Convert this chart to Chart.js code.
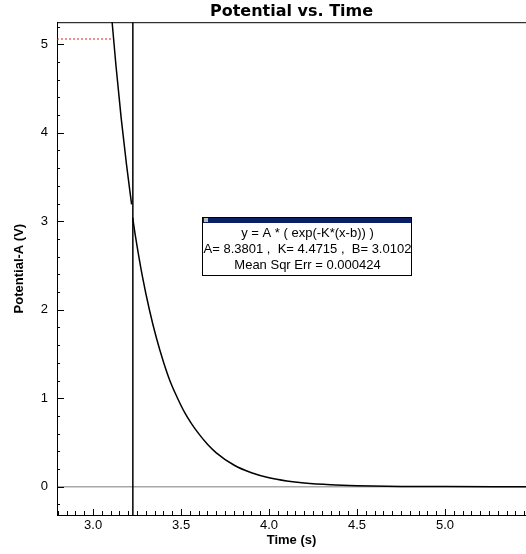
<!DOCTYPE html>
<html>
<head>
<meta charset="utf-8">
<script src="https://cdn.jsdelivr.net/npm/chart.js@4"></script>
<style>
  body { margin: 0; background: #fff; }
  #wrap { width: 526px; height: 554px; }
</style>
</head>
<body>
<div id="wrap"><canvas id="chart" width="526" height="554"></canvas></div>
<script>
// valores
const upperTimes = [3.100, 3.130, 3.160, 3.190, 3.219];
const upperVolts = [5.44, 4.76, 4.16, 3.64, 3.19];
const fitTimes = [3.225, 3.240, 3.280, 3.320, 3.360, 3.400, 3.440, 3.480, 3.520, 3.560, 3.600, 3.650, 3.700, 3.800, 3.900, 4.000, 4.100, 4.200, 4.350, 4.500, 4.750, 5.000, 5.460];
const fitVolts = [3.04, 2.84, 2.38, 2.00, 1.68, 1.41, 1.18, 1.00, 0.84, 0.71, 0.60, 0.48, 0.383, 0.245, 0.157, 0.100, 0.064, 0.041, 0.021, 0.011, 0.0035, 0.0012, 0.0];
const flatTimes = [2.795, 3.106];
const flatVolts = [5.06, 5.06];
const cursorTime = 3.226;
const xRange = [2.795, 5.46];
const yRange = [-0.32, 5.25];
const fitLines = [
  'y = A * ( exp(-K*(x-b)) )',
  'A= 8.3801 ,  K= 4.4715 ,  B= 3.0102',
  'Mean Sqr Err = 0.000424'
];

const toPts = (xs, ys) => xs.map((x, i) => ({ x: x, y: ys[i] }));

// ticks hacia dentro + borde superior + cuadro del ajuste
const extras = {
  id: 'extras',
  afterDraw(chart) {
    const { ctx, chartArea: a, scales: { x, y } } = chart;
    ctx.save();
    ctx.strokeStyle = '#000';
    ctx.lineWidth = 1;
    ctx.beginPath();
    ctx.moveTo(a.left, a.top + 0.5);
    ctx.lineTo(a.right, a.top + 0.5);
    for (let k = Math.ceil(xRange[0] / 0.05); k * 0.05 <= xRange[1]; k++) {
      const px = Math.round(x.getPixelForValue(k * 0.05)) + 0.5;
      const len = k % 10 === 0 ? 6 : 4;
      ctx.moveTo(px, a.bottom);
      ctx.lineTo(px, a.bottom - len);
    }
    for (let k = Math.ceil(yRange[0] / 0.2); k * 0.2 <= yRange[1]; k++) {
      const py = Math.round(y.getPixelForValue(k * 0.2)) + 0.5;
      const len = k % 5 === 0 ? 7 : 3;
      ctx.moveTo(a.left, py);
      ctx.lineTo(a.left + len, py);
    }
    ctx.stroke();

    // cuadro
    const bx = 202, by = 217, bw = 209, bh = 58;
    ctx.fillStyle = '#fff';
    ctx.fillRect(bx, by, bw, bh);
    ctx.fillStyle = '#0b1f66';
    ctx.fillRect(bx, by, bw, 6);
    ctx.fillStyle = '#bbb';
    ctx.fillRect(bx + 2, by + 1, 4, 4);
    ctx.strokeRect(bx + 0.5, by + 0.5, bw, bh);
    ctx.fillStyle = '#000';
    ctx.font = '13px "Liberation Sans", Arial, sans-serif';
    ctx.textAlign = 'center';
    ctx.textBaseline = 'middle';
    fitLines.forEach((t, i) => ctx.fillText(t, bx + bw / 2 + 1, by + 16 + i * 16));
    ctx.restore();
  }
};

new Chart(document.getElementById('chart'), {
  type: 'scatter',
  data: {
    datasets: [
      {
        data: toPts(flatTimes, flatVolts),
        showLine: true, borderColor: '#e02020', borderWidth: 1,
        borderDash: [2, 2], pointRadius: 0
      },
      {
        data: toPts(upperTimes, upperVolts),
        showLine: true, borderColor: '#000', borderWidth: 1.5,
        pointRadius: 0, cubicInterpolationMode: 'monotone'
      },
      {
        data: toPts(fitTimes, fitVolts),
        showLine: true, borderColor: '#000', borderWidth: 1.5,
        pointRadius: 0, cubicInterpolationMode: 'monotone'
      },
      {
        data: toPts([cursorTime, cursorTime], yRange),
        showLine: true, borderColor: '#000', borderWidth: 1.5, pointRadius: 0
      }
    ]
  },
  options: {
    responsive: false,
    animation: false,
    layout: { padding: 0 },
    plugins: {
      legend: { display: false },
      tooltip: { enabled: false },
      title: {
        display: true,
        text: 'Potential vs. Time',
        fullSize: false,
        color: '#000',
        font: { family: '"DejaVu Sans", Verdana, sans-serif', size: 16, weight: 'bold' },
        padding: { top: 2, bottom: 1 }
      }
    },
    scales: {
      x: {
        type: 'linear',
        min: xRange[0], max: xRange[1],
        afterFit(s) { s.height = 39; },
        border: { display: true, color: '#000', width: 1 },
        grid: { display: false, drawTicks: false },
        ticks: {
          stepSize: 0.5, includeBounds: false, padding: 3, color: '#000',
          font: { family: '"Liberation Sans", Arial, sans-serif', size: 13 },
          callback: v => v.toFixed(1)
        },
        title: {
          display: true, text: 'Time (s)', color: '#000',
          font: { family: '"Liberation Sans", Arial, sans-serif', size: 13, weight: 'bold' },
          padding: { top: 0, bottom: 6 }
        }
      },
      y: {
        type: 'linear',
        min: yRange[0], max: yRange[1],
        afterFit(s) { s.width = 57; },
        border: { display: true, color: '#000', width: 1 },
        grid: {
          drawTicks: false,
          color: c => c.tick && c.tick.value === 0 ? '#a8a8a8' : 'rgba(0,0,0,0)',
          lineWidth: 1.5
        },
        ticks: {
          stepSize: 1, includeBounds: false, padding: 9, color: '#000',
          font: { family: '"Liberation Sans", Arial, sans-serif', size: 13 },
          callback: v => String(v)
        },
        title: {
          display: true, text: 'Potential-A (V)', color: '#000',
          font: { family: '"Liberation Sans", Arial, sans-serif', size: 13, weight: 'bold' },
          padding: { top: 12, bottom: 0 }
        }
      }
    }
  },
  plugins: [extras]
});
</script>
</body>
</html>
